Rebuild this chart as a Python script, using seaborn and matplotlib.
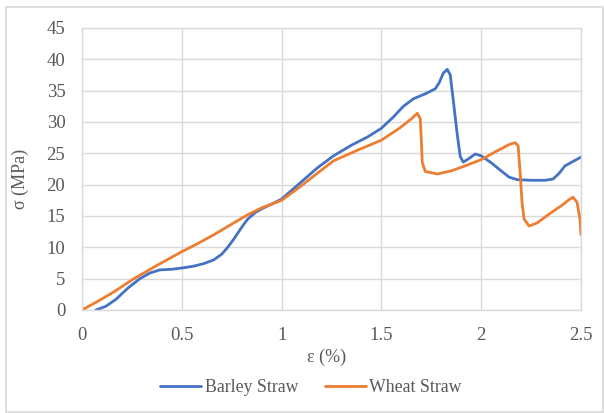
import pandas as pd
import numpy as np
import seaborn as sns
import matplotlib.pyplot as plt
from matplotlib.patches import Rectangle

# strain (%) and stress (MPa)
barley_x = [0.07, 0.12, 0.17, 0.23, 0.29, 0.34, 0.39, 0.45, 0.5, 0.56, 0.61, 0.66, 0.70, 0.73,
            0.76, 0.80, 0.83, 0.87, 0.91, 0.95, 1.0, 1.09, 1.18, 1.26, 1.35, 1.43, 1.5, 1.56,
            1.61, 1.66, 1.72, 1.77, 1.79, 1.81, 1.83, 1.845, 1.86, 1.88, 1.895, 1.91, 1.94,
            1.97, 2.0, 2.05, 2.1, 2.14, 2.18, 2.25, 2.32, 2.36, 2.39, 2.42, 2.46, 2.5]
barley_y = [0, 0.6, 1.7, 3.5, 5.0, 5.9, 6.4, 6.5, 6.7, 7.0, 7.4, 8.0, 8.9, 10.0,
            11.3, 13.2, 14.5, 15.6, 16.3, 16.9, 17.7, 20.2, 22.7, 24.6, 26.3, 27.6, 29.0, 30.8,
            32.5, 33.7, 34.5, 35.3, 36.3, 37.8, 38.4, 37.5, 33.5, 28.0, 24.5, 23.6, 24.2,
            24.9, 24.6, 23.5, 22.2, 21.2, 20.8, 20.7, 20.7, 20.9, 21.8, 23.0, 23.7, 24.4]

wheat_x = [0, 0.08, 0.16, 0.26, 0.38, 0.5, 0.58, 0.66, 0.75, 0.83, 0.9, 1.0, 1.09, 1.17,
           1.26, 1.38, 1.5, 1.59, 1.65, 1.68, 1.695, 1.70, 1.705, 1.72, 1.78, 1.85, 1.92,
           2.0, 2.08, 2.14, 2.17, 2.185, 2.195, 2.205, 2.215, 2.24, 2.28, 2.34, 2.40, 2.44,
           2.46, 2.48, 2.495, 2.5]
wheat_y = [0, 1.4, 2.9, 5.0, 7.2, 9.3, 10.6, 12.0, 13.7, 15.2, 16.3, 17.5, 19.6, 21.6,
           23.8, 25.5, 27.1, 29.0, 30.5, 31.4, 30.5, 27.0, 23.5, 22.1, 21.7, 22.2, 23.0,
           24.0, 25.4, 26.4, 26.7, 26.2, 22.0, 17.0, 14.5, 13.4, 13.9, 15.3, 16.6, 17.6,
           18.0, 17.2, 14.5, 12.0]

df = pd.concat([
    pd.DataFrame({'strain': barley_x, 'stress': barley_y, 'series': 'Barley Straw'}),
    pd.DataFrame({'strain': wheat_x, 'stress': wheat_y, 'series': 'Wheat Straw'}),
])

sns.set_style("white")
plt.rcParams['font.family'] = ['Liberation Serif', 'DejaVu Serif']
txtcol = '#595959'
gridcol = '#d9d9d9'

fig = plt.figure(figsize=(6.04, 4.13), dpi=100)
ax = fig.add_axes([82/604, 1-310/413, (581-82)/604, (310-28)/413])

sns.lineplot(data=df, x='strain', y='stress', hue='series', sort=False, estimator=None,
             palette={'Barley Straw': '#4472C4', 'Wheat Straw': '#ED7D31'},
             linewidth=2.0, ax=ax)

ax.set_xlim(0, 2.5)
ax.set_ylim(0, 45)
ax.set_xticks([0, 0.5, 1, 1.5, 2, 2.5])
ax.set_xticklabels(['0', '0.5', '1', '1.5', '2', '2.5'])
ax.set_yticks(range(0, 50, 5))
ax.grid(True, color=gridcol, linewidth=1.0)
ax.set_axisbelow(True)
for s in ax.spines.values():
    s.set_color(gridcol)
    s.set_linewidth(1.0)
ax.tick_params(axis='both', length=0, labelsize=13.5, labelcolor=txtcol)
ax.tick_params(axis='x', pad=12)
ax.tick_params(axis='y', pad=12)

ax.set_xlabel('ε (%)', fontsize=13, color=txtcol)
ax.set_ylabel('σ (MPa)', fontsize=13, color=txtcol)
ax.xaxis.set_label_coords((327-82)/499, -(349-310)/282)
ax.yaxis.set_label_coords(-(82-29)/499, (310-179)/282)

h, l = ax.get_legend_handles_labels()
ax.legend(h, l, ncol=2, frameon=False, fontsize=12.8, labelcolor=txtcol,
          loc='center', bbox_to_anchor=(311/604, 1-388/413), bbox_transform=fig.transFigure,
          handlelength=2.3, handletextpad=0.2, columnspacing=1.5)

fig.patches.append(Rectangle((6/604, 1/413), 597/604, 405/413, transform=fig.transFigure,
                             fill=False, edgecolor=gridcol, linewidth=1.2))

fig.savefig('out.png', dpi=100)
